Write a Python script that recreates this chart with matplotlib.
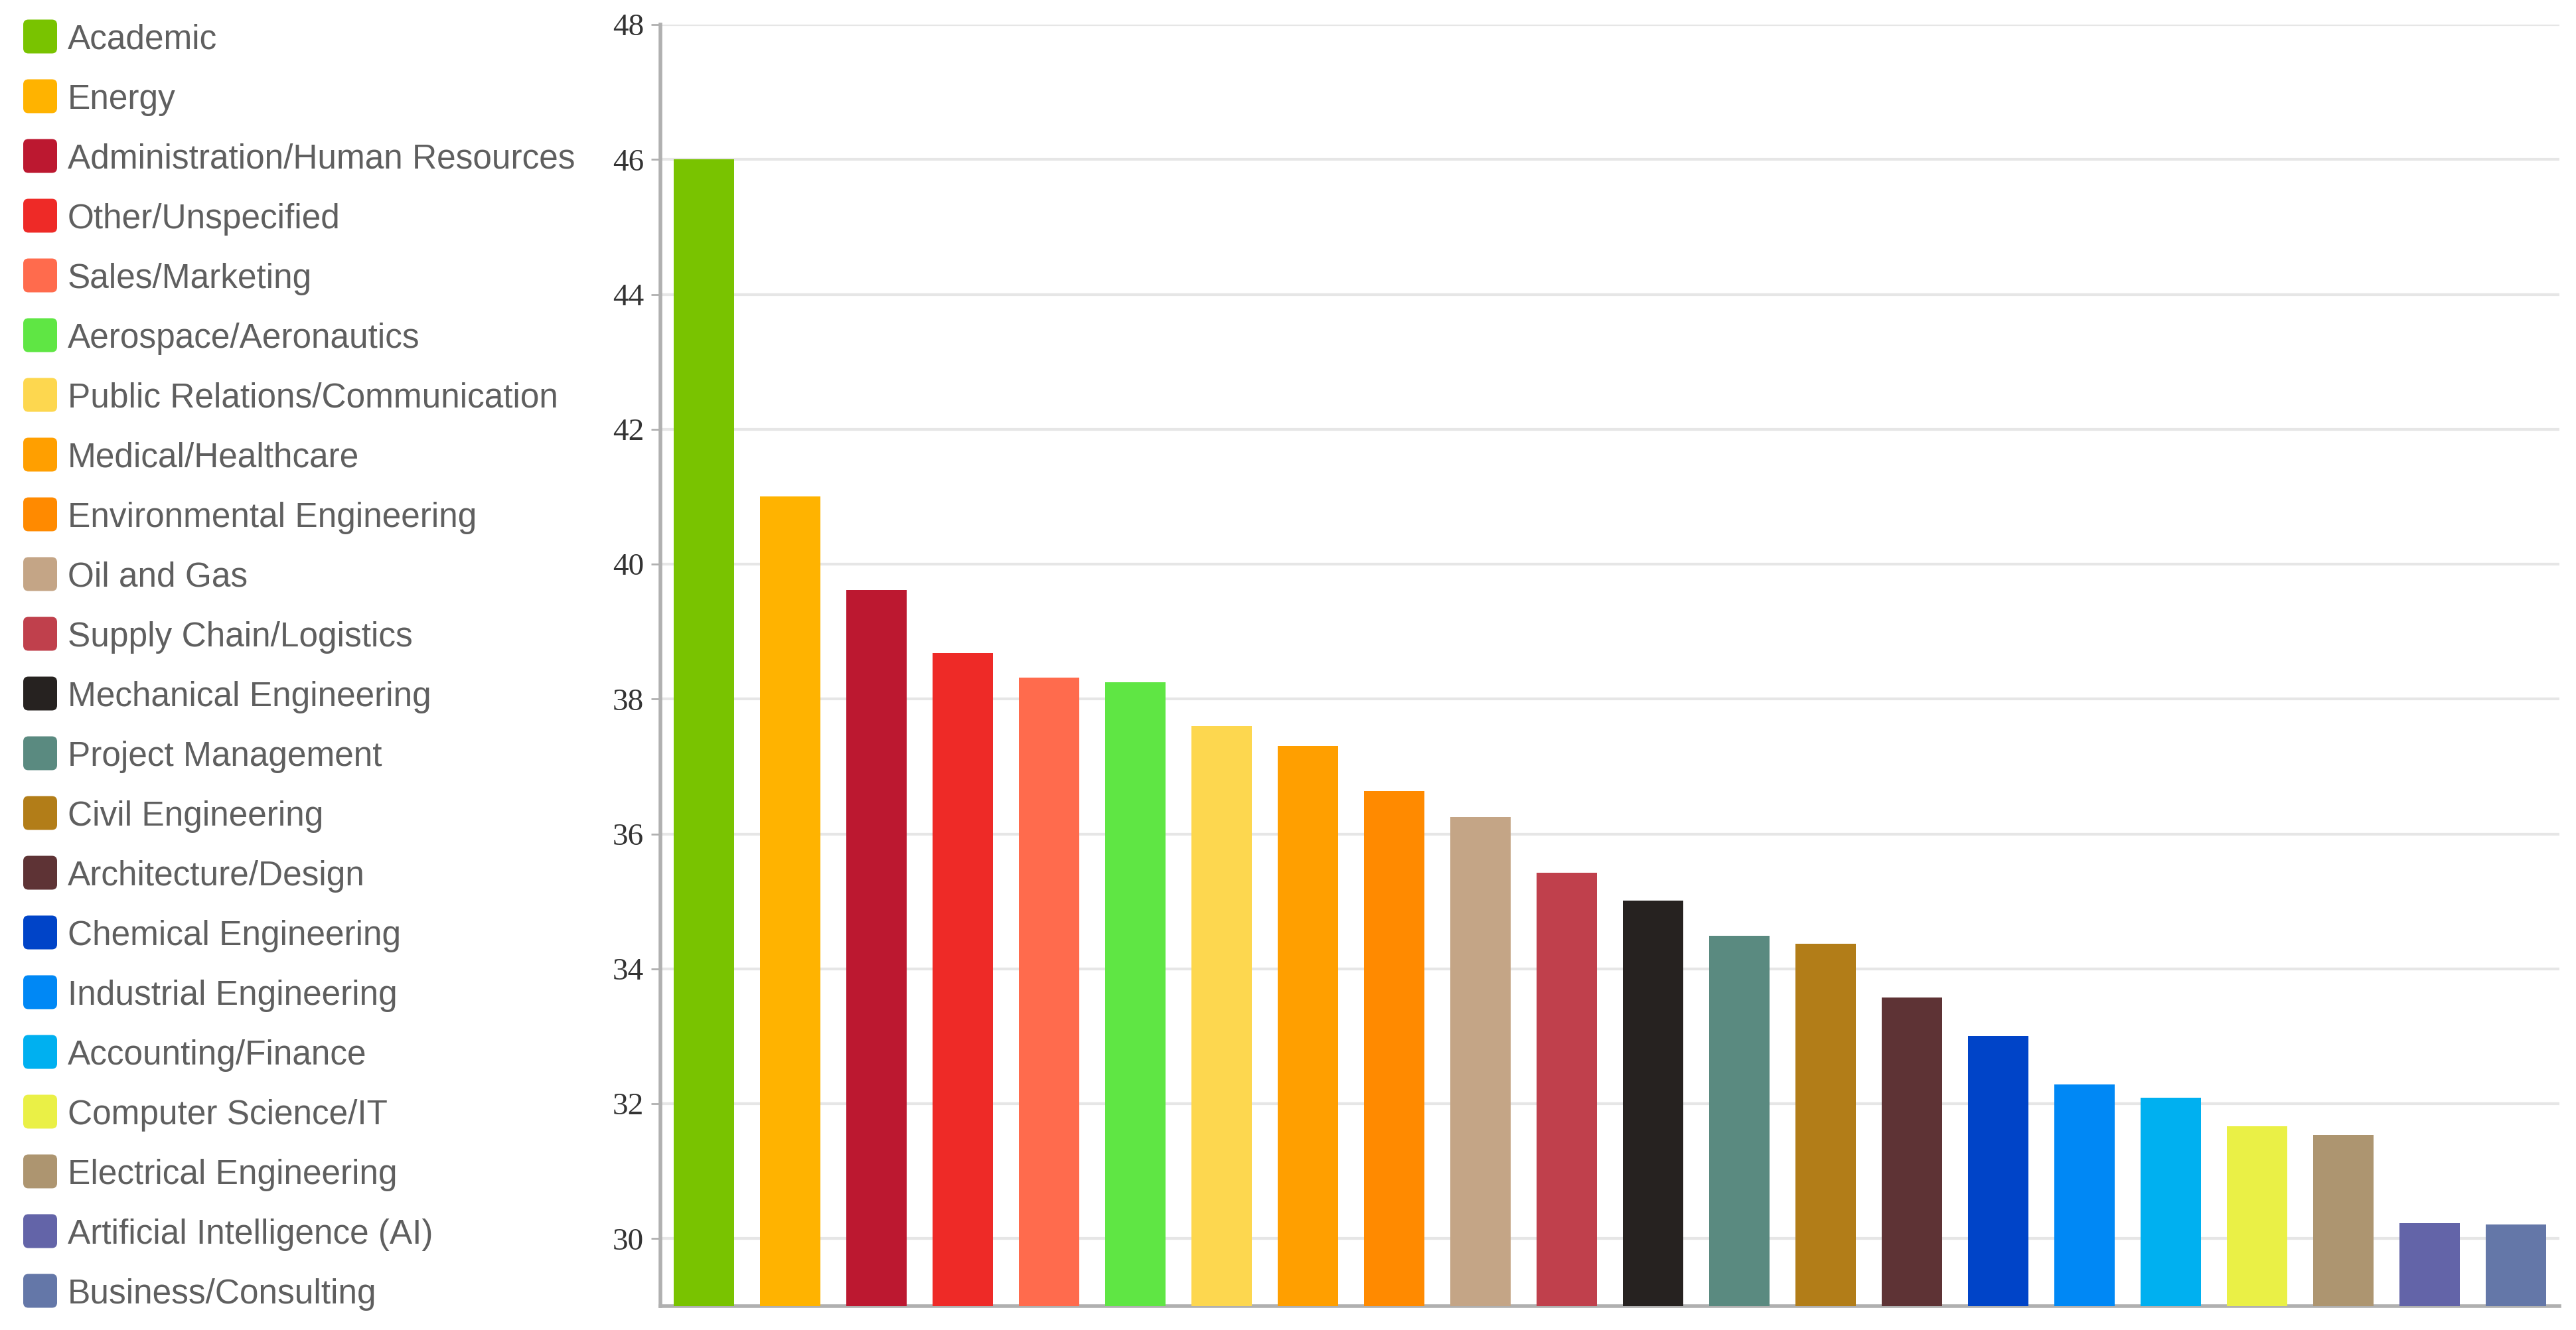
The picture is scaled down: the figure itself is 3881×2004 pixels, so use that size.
import matplotlib
matplotlib.use("Agg")
import matplotlib.pyplot as plt
from matplotlib.patches import FancyBboxPatch

categories = [
    "Academic", "Energy", "Administration/Human Resources", "Other/Unspecified",
    "Sales/Marketing", "Aerospace/Aeronautics", "Public Relations/Communication",
    "Medical/Healthcare", "Environmental Engineering", "Oil and Gas",
    "Supply Chain/Logistics", "Mechanical Engineering", "Project Management",
    "Civil Engineering", "Architecture/Design", "Chemical Engineering",
    "Industrial Engineering", "Accounting/Finance", "Computer Science/IT",
    "Electrical Engineering", "Artificial Intelligence (AI)", "Business/Consulting",
]
values = [46.0, 41.0, 39.62, 38.68, 38.32, 38.25, 37.60, 37.30, 36.64, 36.25,
          35.43, 35.01, 34.49, 34.37, 33.58, 33.0, 32.29, 32.09, 31.67, 31.54,
          30.23, 30.21]
colors = ["#79C300", "#FFB300", "#BC1830", "#EE2A27", "#FF6B4D", "#5FE644",
          "#FDD74F", "#FF9F00", "#FF8A00", "#C4A586", "#C0404C", "#262220",
          "#5A8A80", "#B27D18", "#5E3335", "#0044C8", "#0088F5", "#00B0F0",
          "#EAF046", "#AD9570", "#6364A8", "#6477A8"]
yticks = [30, 32, 34, 36, 38, 40, 42, 44, 46, 48]

W, H = 3881, 2004
fig = plt.figure(figsize=(W / 100, H / 100), dpi=100)
ax = fig.add_axes([995 / W, 1 - 1968 / H, (3856 - 995) / W, (1968 - 37) / H])

x = list(range(len(categories)))
ax.bar(x, values, width=0.7, color=colors, bottom=0, zorder=3)
ax.set_xlim(-0.5, len(categories) - 0.5)
ax.set_ylim(29, 48)
ax.set_yticks(yticks)
ax.set_xticks([])
ax.grid(axis="y", color="#e6e6e6", linewidth=3, zorder=0)
for s in ["top", "right"]:
    ax.spines[s].set_visible(False)
for s in ["left", "bottom"]:
    ax.spines[s].set_color("#b0b0b0")
    ax.spines[s].set_linewidth(4)
ax.tick_params(axis="y", length=10, width=2, color="#b0b0b0", pad=8,
               labelsize=34, labelcolor="#333333")
for lbl in ax.get_yticklabels():
    lbl.set_fontfamily("Liberation Serif")

# legend
for i, (cat, col) in enumerate(zip(categories, colors)):
    yc = 55 + 90.0 * i
    box = FancyBboxPatch((35 / W, 1 - (yc + 25.5) / H), 51 / W, 51 / H,
                         boxstyle="round,pad=0,rounding_size=0.002",
                         transform=fig.transFigure, facecolor=col,
                         edgecolor="none", mutation_aspect=W / H)
    fig.patches.append(box)
    fig.text(102 / W, 1 - yc / H, cat, fontsize=37, color="#5f5f5f",
             family=["Liberation Sans", "DejaVu Sans"], va="center_baseline", ha="left")

fig.savefig("out.png", dpi=100, facecolor="white")
